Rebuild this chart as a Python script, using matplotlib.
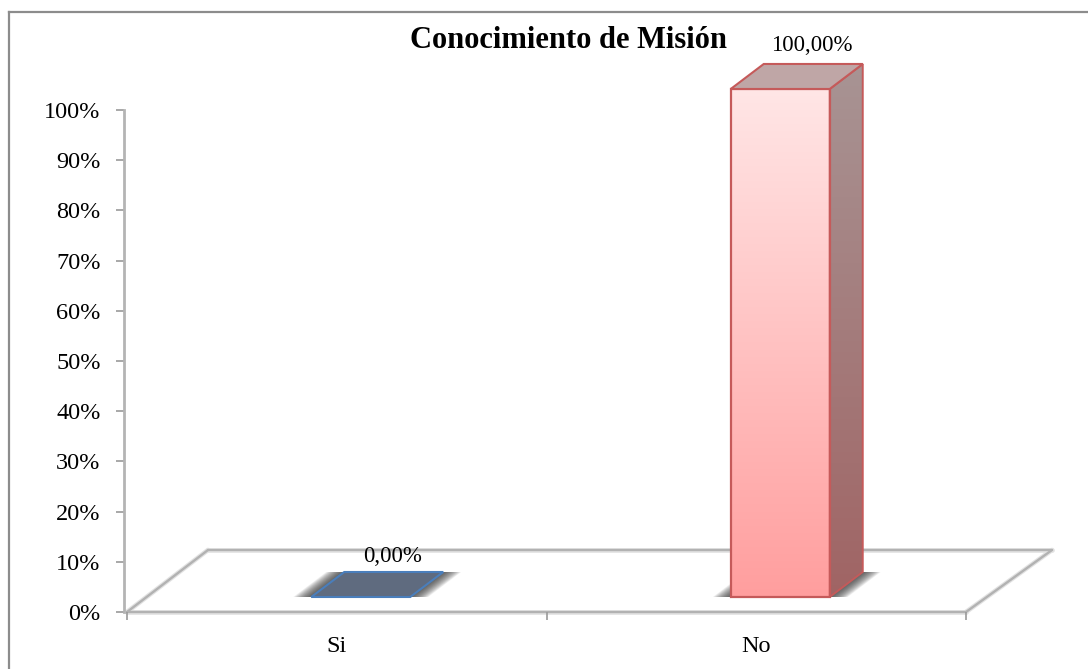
import numpy as np
import matplotlib
matplotlib.use('Agg')
import matplotlib.pyplot as plt
from matplotlib.lines import Line2D
from matplotlib.patches import Polygon
from matplotlib.transforms import Affine2D

plt.rcParams['font.family'] = ['Liberation Serif', 'DejaVu Serif']

titulo = 'Conocimiento de Misión'
categorias = ['Si', 'No']
valores = [0.0, 1.0]
ticks_y = [0.0, 0.1, 0.2, 0.3, 0.4, 0.5, 0.6, 0.7, 0.8, 0.9, 1.0]

W, H = 1088, 669
ESCALA_BARRA = 1.012   # la cara frontal se ve algo mas grande por la perspectiva


def degradado(ax, poly, arriba, abajo):
    """Rellena un poligono (en pixeles) con un degradado vertical."""
    pts = poly.get_xy()
    c1 = np.array(matplotlib.colors.to_rgb(arriba))
    c2 = np.array(matplotlib.colors.to_rgb(abajo))
    t = np.linspace(0, 1, 256)[:, None, None]
    img = c1[None, None, :] * (1 - t) + c2[None, None, :] * t
    ext = (pts[:, 0].min(), pts[:, 0].max(), pts[:, 1].min(), pts[:, 1].max())
    im = ax.imshow(img, extent=ext, origin='upper', aspect='auto',
                   transform=Affine2D(), zorder=poly.get_zorder())
    im.set_clip_box(fig.bbox)
    im.set_clip_path(poly)


fig = plt.figure(figsize=(W / 100, H / 100), dpi=100)
fig.patch.set_facecolor('white')

# marco exterior: solo arriba y a la izquierda llega a verse
for xs, ys in [((9, 9), (12, H)), ((9, W), (12, 12))]:
    fig.add_artist(Line2D([x / W for x in xs], [1 - y / H for y in ys],
                          transform=fig.transFigure, color='#8c8c8c', lw=1.6))

ax = fig.add_axes([127 / W, 1 - 612 / H, (966 - 127) / W, (612 - 110) / H])
ax.set_xlim(0, 2)
ax.set_ylim(0, 1)
ax.patch.set_alpha(0)

for lado in ['top', 'right', 'bottom']:
    ax.spines[lado].set_visible(False)
ax.spines['left'].set_color('#b4b4b4')
ax.spines['left'].set_linewidth(2)
ax.spines['left'].set_position(('outward', 2))

ax.set_yticks(ticks_y)
ax.set_yticklabels([f'{t * 100:.0f}%' for t in ticks_y], fontsize=17.5)
ax.tick_params(axis='y', length=6, width=1.2, color='#9a9a9a', pad=11)

# ticks del eje x en los limites, etiquetas en el centro de cada categoria
ax.set_xticks([0, 1, 2])
ax.set_xticklabels([])
ax.tick_params(axis='x', length=6, width=1.2, color='#9a9a9a')
for i, cat in enumerate(categorias):
    ax.annotate(cat, (i + 0.5, 0), xytext=(0, -35), textcoords='offset pixels',
                ha='center', va='center', fontsize=17.5, color='black')

# suelo 3D, en pixeles desde el origen de los ejes
x0, x1 = 0, 2
t_izq = ax.transData + Affine2D().translate(81, 62)
t_der = ax.transData + Affine2D().translate(86, 62)
for ancho, col in [(3.4, '#e2e2e2'), (1.7, '#b2b2b2')]:
    ax.plot([x0, x1], [0, 0], color=col, lw=ancho, clip_on=False, zorder=1,
            solid_capstyle='round')
    p_izq = t_izq.transform((x0, 0))
    p_der = t_der.transform((x1, 0))
    o_izq = ax.transData.transform((x0, 0))
    o_der = ax.transData.transform((x1, 0))
    for p, q in [(p_izq, p_der), (o_izq, p_izq), (o_der, p_der)]:
        ax.plot([p[0], q[0]], [p[1], q[1]], color=col, lw=ancho, clip_on=False,
                zorder=1, transform=Affine2D(), solid_capstyle='round')

# barras
ancho_barra = 0.236
prof_x, prof_y = 33, 25      # fondo de la barra en pixeles
base_x, base_y = 24, 15      # separacion de la barra respecto al borde del suelo

estilos = [
    dict(borde='#4a7ebb', cima='#5f6b7f', frente=('#dce6f2', '#95b3d7'), lado=('#8090a0', '#607080')),
    dict(borde='#c55a5a', cima='#bfa6a6', frente=('#ffe6e6', '#ff9e9e'), lado=('#a89494', '#a06464')),
]

for i, (v, est) in enumerate(zip(valores, estilos)):
    xc = i + 0.5
    xi, xd = xc - ancho_barra * 0.5, xc + ancho_barra * 0.5
    alto = v * ESCALA_BARRA
    tr = ax.transData + Affine2D().translate(base_x, base_y)
    tr_atras = tr + Affine2D().translate(prof_x, prof_y)

    # vertices en pixeles
    a = tr.transform([(xi, 0), (xd, 0), (xd, alto), (xi, alto)])
    b = tr_atras.transform([(xi, 0), (xd, 0), (xd, alto), (xi, alto)])

    # sombra difusa sobre el suelo
    suelo = np.array([a[0], a[1], b[1], b[0]])
    for k in np.linspace(18, 0, 24):
        sombra = suelo + np.array([[-k, 0], [k, 0], [k, 0], [-k, 0]])
        ax.add_patch(Polygon(sombra, closed=True, transform=Affine2D(),
                             facecolor='#3a3a3a', edgecolor='none', alpha=0.06,
                             zorder=2, clip_on=False))

    if v > 0:
        # cara lateral
        lado = Polygon(np.array([a[1], b[1], b[2], a[2]]), closed=True, zorder=3,
                       transform=Affine2D(), facecolor='none', edgecolor='none')
        ax.add_patch(lado)
        degradado(ax, lado, est['lado'][0], est['lado'][1])
        ax.add_patch(Polygon(lado.get_xy(), closed=True, transform=Affine2D(),
                             facecolor='none', edgecolor=est['borde'], lw=1.4,
                             zorder=4, clip_on=False))

        # cara frontal
        frente = Polygon(a, closed=True, zorder=3, transform=Affine2D(),
                         facecolor='none', edgecolor='none')
        ax.add_patch(frente)
        degradado(ax, frente, est['frente'][0], est['frente'][1])
        ax.add_patch(Polygon(a, closed=True, transform=Affine2D(), facecolor='none',
                             edgecolor=est['borde'], lw=1.6, zorder=4, clip_on=False))

    # cara superior
    ax.add_patch(Polygon(np.array([a[3], a[2], b[2], b[3]]), closed=True,
                         transform=Affine2D(), facecolor=est['cima'],
                         edgecolor=est['borde'], lw=1.5, zorder=5, clip_on=False))

    # etiqueta con el valor
    ax.annotate(f'{v * 100:.2f}%'.replace('.', ','), (xc, alto),
                xytext=(56, 58 if v > 0 else 55), textcoords='offset pixels',
                ha='center', va='center', fontsize=16.5, color='black',
                annotation_clip=False, zorder=6)

ax.set_xlim(0, 2)
ax.set_ylim(0, 1)

fig.text(568 / W, 1 - 40 / H, titulo, ha='center', va='center',
         fontsize=22, fontweight='bold', color='black')

fig.savefig('out.png', dpi=100, facecolor='white')
